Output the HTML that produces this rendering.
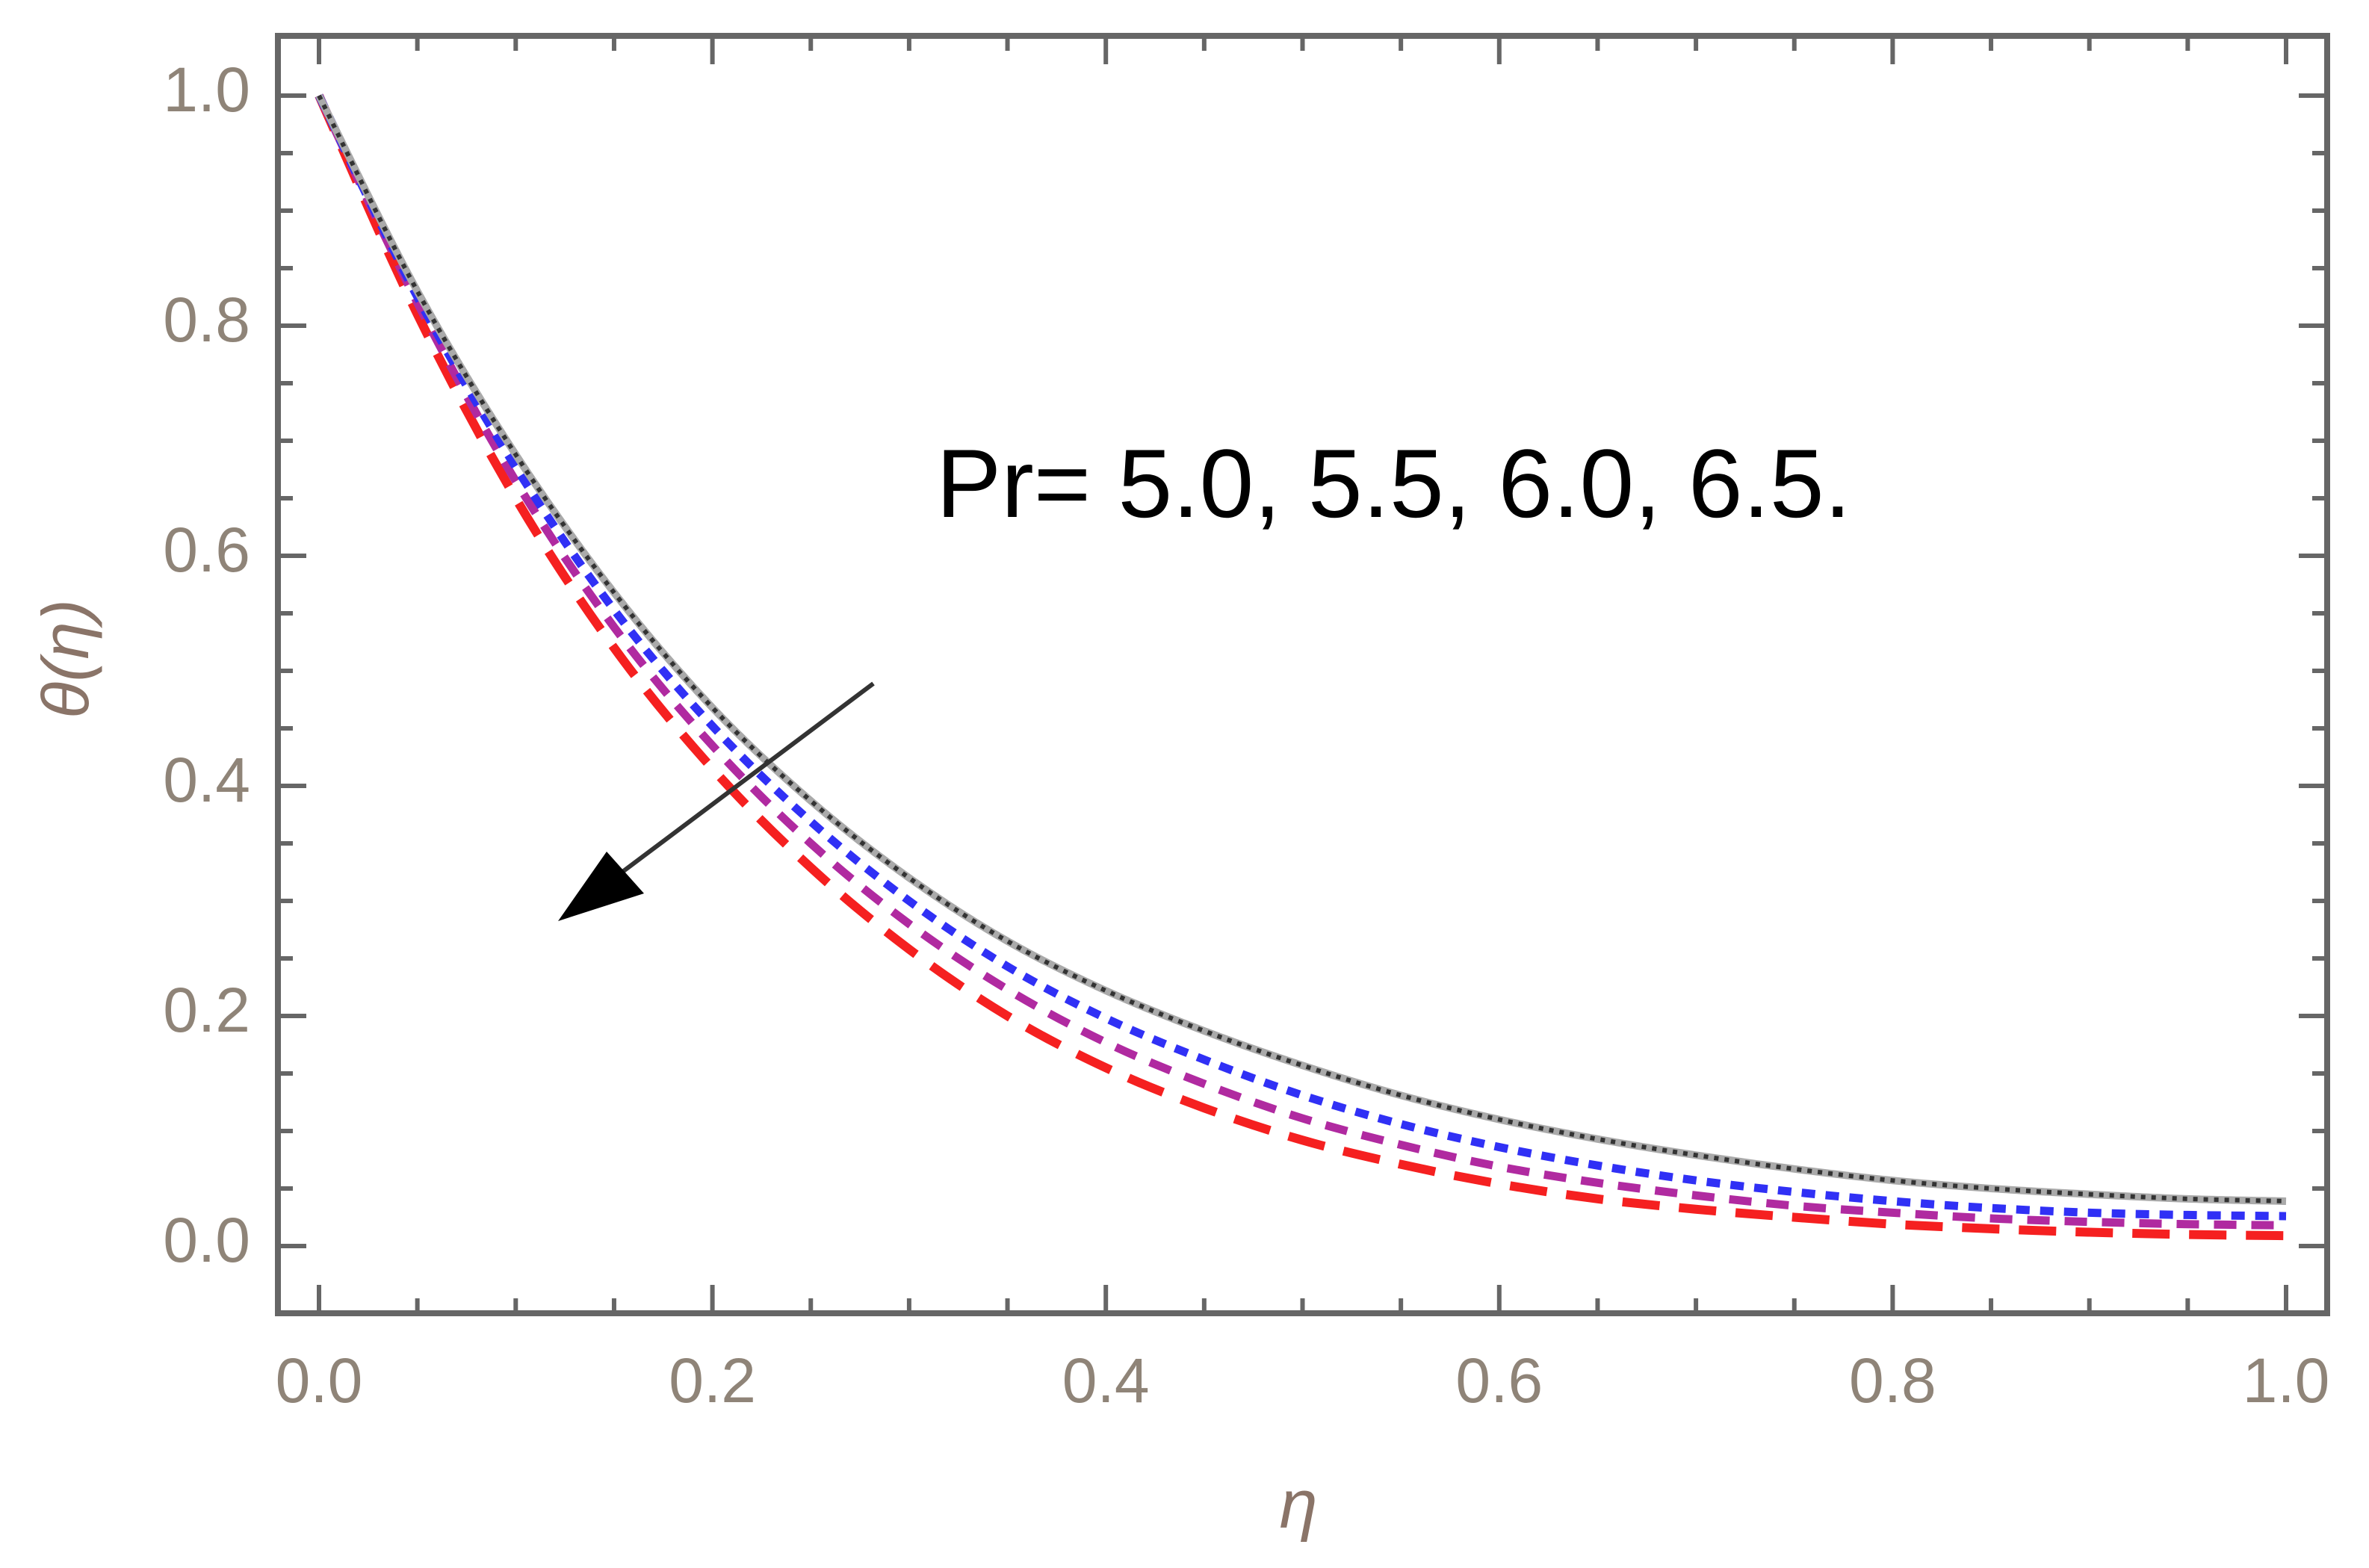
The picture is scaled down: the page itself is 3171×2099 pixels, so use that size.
<!DOCTYPE html>
<html><head><meta charset="utf-8"><style>
html,body{margin:0;padding:0;background:#fff;}
svg{display:block;}
</style></head><body>
<svg id="chart" width="3171" height="2099" viewBox="0 0 3171 2099" xmlns="http://www.w3.org/2000/svg" font-family="'Liberation Sans', sans-serif">
<rect x="0" y="0" width="3171" height="2099" fill="#fff"/>
<g id="ticks"></g>
<g id="labels"></g>
<g id="series"></g>
<rect x="372" y="48" width="2743" height="1710" fill="none" stroke="#666" stroke-width="8"/>
<text x="1253" y="692" font-size="130" fill="#000" textLength="1225" lengthAdjust="spacingAndGlyphs">Pr= 5.0, 5.5, 6.0, 6.5.</text>
<g>
<line x1="1169" y1="915" x2="800" y2="1192" stroke="#333" stroke-width="6"/>
<polygon points="747,1233 812,1140 862,1196" fill="#000"/>
</g>
<text x="1738" y="2045" font-size="92" font-style="italic" fill="#8a7468" text-anchor="middle">η</text>
<text transform="translate(118,882) rotate(-90)" font-size="88" font-style="italic" fill="#8a7468" text-anchor="middle" textLength="160" lengthAdjust="spacingAndGlyphs">θ(η)</text>
</svg>
<script>
const etaValues=[0,0.05,0.1,0.15,0.2,0.25,0.3,0.35,0.4,0.45,0.5,0.55,0.6,0.65,0.7,0.75,0.8,0.85,0.9,0.95,1.0];
const thetaPr50=[1,.83,.688,.568,.468,.387,.32,.265,.222,.187,.157,.131,.11,.093,.079,.067,.057,.05,.045,.041,.039];
const thetaPr55=[1,.825,.677,.553,.452,.369,.3,.243,.198,.162,.131,.106,.086,.07,.057,.047,.039,.033,.029,.027,.026];
const thetaPr60=[1,.82,.665,.538,.435,.35,.28,.223,.177,.141,.111,.088,.069,.055,.044,.035,.029,.024,.021,.019,.018];
const thetaPr65=[1,.81,.65,.52,.415,.329,.258,.2,.155,.12,.092,.071,.054,.041,.032,.025,.019,.015,.012,.01,.009];
const xTickLabels=["0.0","0.2","0.4","0.6","0.8","1.0"];
const yTickLabels=["0.0","0.2","0.4","0.6","0.8","1.0"];

const NS="http://www.w3.org/2000/svg";
const X0=427,X1=3060,Y0=1668,Y1=128;
function xs(v){return X0+(X1-X0)*v;}
function ys(v){return Y0-(Y0-Y1)*v;}
function mk(tag,attrs,parent){const e=document.createElementNS(NS,tag);for(const k in attrs)e.setAttribute(k,attrs[k]);parent.appendChild(e);return e;}

const ticks=document.getElementById('ticks');
const labels=document.getElementById('labels');
const L=372,R=3115,T=48,B=1758;
for(let i=0;i<=20;i++){
  const v=i*0.05, major=(i%4===0), len=major?38:20;
  const x=xs(v), y=ys(v);
  let t=mk('line',{x1:x,y1:B,x2:x,y2:B-len,stroke:'#666','stroke-width':6},ticks);
  
  
  t=mk('line',{x1:x,y1:T,x2:x,y2:T+len,stroke:'#666','stroke-width':6},ticks);
  
  
  t=mk('line',{x1:L,y1:y,x2:L+len,y2:y,stroke:'#666','stroke-width':6},ticks);
  
  
  t=mk('line',{x1:R,y1:y,x2:R-len,y2:y,stroke:'#666','stroke-width':6},ticks);
  
  
}
xTickLabels.forEach((s,i)=>{
  const t=mk('text',{x:xs(i*0.2),y:1877,'font-size':84,fill:'#8f8478','text-anchor':'middle'},labels);
  t.textContent=s;
  
  
});
yTickLabels.forEach((s,i)=>{
  const t=mk('text',{x:335,y:ys(i*0.2)+21,'font-size':84,fill:'#8f8478','text-anchor':'end'},labels);
  t.textContent=s;
  
  
});

function pathFor(vals){
  const p=etaValues.map((e,i)=>[xs(e),ys(vals[i])]);
  let d='M'+p[0][0]+','+p[0][1];
  for(let i=0;i<p.length-1;i++){
    const p0=p[Math.max(0,i-1)],p1=p[i],p2=p[i+1],p3=p[Math.min(p.length-1,i+2)];
    const c1x=p1[0]+(p2[0]-p0[0])/6,c1y=p1[1]+(p2[1]-p0[1])/6;
    const c2x=p2[0]-(p3[0]-p1[0])/6,c2y=p2[1]-(p3[1]-p1[1])/6;
    d+=' C'+c1x+','+c1y+' '+c2x+','+c2y+' '+p2[0]+','+p2[1];
  }
  return d;
}
const series=document.getElementById('series');
let s;
s=mk('path',{d:pathFor(thetaPr65),fill:'none',stroke:'#f52020','stroke-width':12,'stroke-dasharray':'50 26'},series);


s=mk('path',{d:pathFor(thetaPr60),fill:'none',stroke:'#b02aa0','stroke-width':11,'stroke-dasharray':'30 20'},series);


s=mk('path',{d:pathFor(thetaPr55),fill:'none',stroke:'#3030f5','stroke-width':11,'stroke-dasharray':'18 14'},series);


s=mk('path',{d:pathFor(thetaPr50),fill:'none',stroke:'#aaa','stroke-width':10},series);


s=mk('path',{d:pathFor(thetaPr50),fill:'none',stroke:'#333','stroke-width':6,'stroke-dasharray':'6 8'},series);


</script>
</body></html>
